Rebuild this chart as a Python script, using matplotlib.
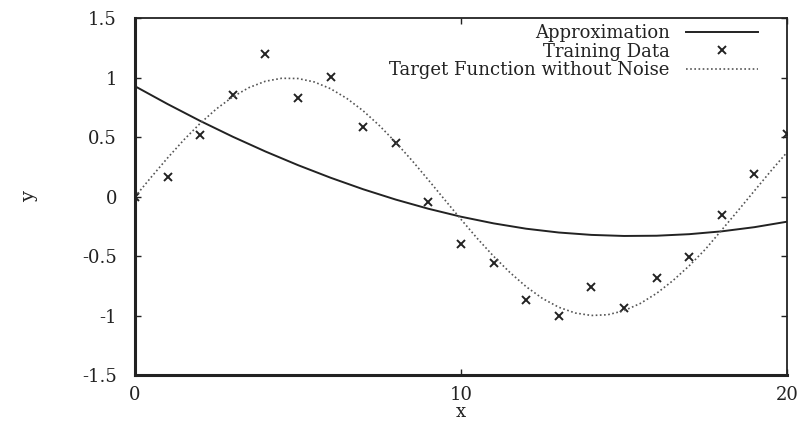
import matplotlib
matplotlib.use("Agg")
import matplotlib.pyplot as plt
import numpy as np

# Training data (x = 0..20)
train_x = list(range(21))
train_y = [0.00, 0.17, 0.52, 0.86, 1.20, 0.83, 1.01, 0.59, 0.45, -0.04, -0.40,
           -0.56, -0.87, -1.00, -0.76, -0.94, -0.68, -0.51, -0.15, 0.19, 0.53]

# Approximation curve (read at integer x)
approx_x = list(range(21))
approx_y = [0.93, 0.78, 0.638, 0.505, 0.381, 0.266, 0.160, 0.063, -0.024, -0.101, -0.168,
            -0.224, -0.269, -0.301, -0.321, -0.330, -0.328, -0.315, -0.291, -0.256, -0.210]

# Target function without noise (read at half-unit steps)
target_x = [i * 0.5 for i in range(41)]
target_y = [0.000, 0.166, 0.327, 0.479, 0.618, 0.740, 0.841, 0.919, 0.972, 0.997,
            0.995, 0.966, 0.909, 0.827, 0.723, 0.598, 0.457, 0.304, 0.141, -0.025,
            -0.190, -0.351, -0.501, -0.637, -0.757, -0.856, -0.930, -0.978, -0.999, -0.993,
            -0.959, -0.898, -0.813, -0.706, -0.581, -0.441, -0.279, -0.116, 0.050, 0.215,
            0.374]

xticks = [0, 10, 20]
yticks = [-1.5, -1, -0.5, 0, 0.5, 1, 1.5]
ytick_labels = ["-1.5", "-1", "-0.5", "0", "0.5", "1", "1.5"]

plt.rcParams['font.family'] = ['DejaVu Serif']

fig = plt.figure(figsize=(8.01, 4.21), dpi=100)
ax = fig.add_axes([135/801, 1 - 375/421, (787-135)/801, (375-18.5)/421])

ax.plot(approx_x, approx_y, color='#222222', lw=1.4, label='Approximation')
ax.plot(train_x, train_y, linestyle='none', marker='x', color='#222222',
        ms=6, mew=1.4, label='Training Data')
ax.plot(target_x, target_y, color='#555555', lw=1.2, linestyle=(0, (1, 1.5)),
        label='Target Function without Noise')

ax.set_xlim(0, 20)
ax.set_ylim(-1.5, 1.5)
ax.set_xticks(xticks)
ax.set_xticklabels([str(t) for t in xticks])
ax.set_yticks(yticks)
ax.set_yticklabels(ytick_labels)

ax.tick_params(direction='in', length=4, width=1, top=True, right=True,
               labelsize=13, colors='#222222')
ax.tick_params(axis='y', pad=13)
ax.tick_params(axis='x', pad=8)

for s in ['left', 'bottom']:
    ax.spines[s].set_linewidth(2.2)
for s in ['top', 'right']:
    ax.spines[s].set_linewidth(1.3)
for s in ax.spines.values():
    s.set_color('#222222')

ax.set_xlabel('x', fontsize=13, labelpad=-1, color='#222222')
ax.set_ylabel('y', fontsize=14, labelpad=32, color='#222222')

leg = ax.legend(loc='upper right', bbox_to_anchor=(0.9555, 0.985), frameon=False,
                markerfirst=False, fontsize=13, handlelength=4.0, handletextpad=0.9,
                labelspacing=0.04, borderpad=0, borderaxespad=0)
for t in leg.get_texts():
    t.set_color('#222222')

fig.savefig('out.png', dpi=100)
